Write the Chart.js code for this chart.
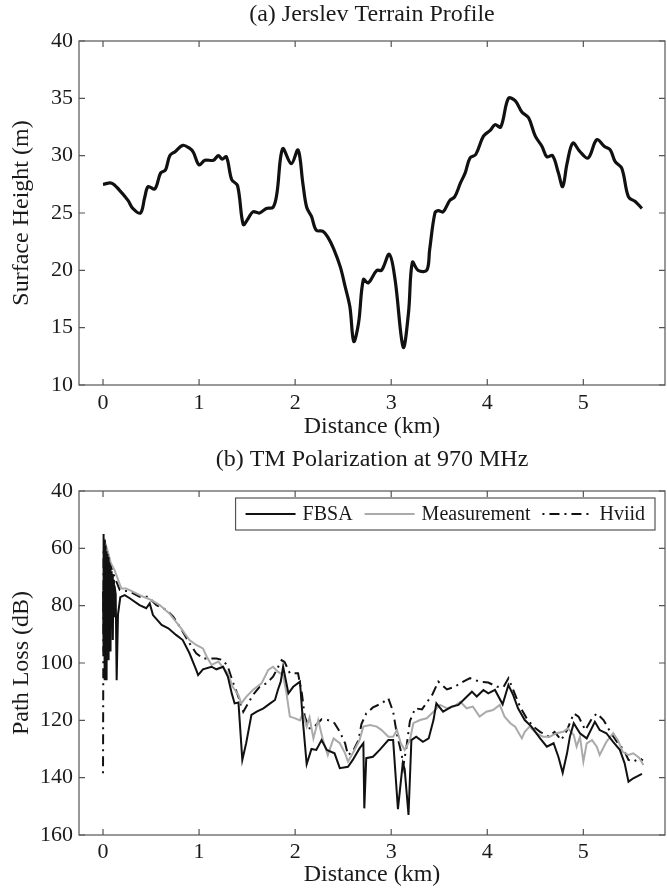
<!DOCTYPE html>
<html>
<head>
<meta charset="utf-8">
<script src="https://cdn.jsdelivr.net/npm/chart.js@4/dist/chart.umd.min.js"></script>
<style>
  body { margin: 0; background: #fff; }
  .panel { position: absolute; left: 0; width: 667px; height: 444px; }
</style>
</head>
<body>
<div class="panel" style="top:0"><canvas id="terrainChart" width="667" height="444"></canvas></div>
<div class="panel" style="top:444px"><canvas id="lossChart" width="667" height="444"></canvas></div>
<script>
// (a) terrain profile
var terrainKm = [0.00,0.09,0.17,0.26,0.31,0.39,0.435,0.47,0.54,0.60,0.65,0.695,0.75,0.83,0.90,0.94,1.00,1.06,1.15,1.20,1.24,1.285,1.34,1.40,1.46,1.51,1.56,1.63,1.70,1.77,1.81,1.87,1.96,2.03,2.08,2.12,2.17,2.22,2.29,2.34,2.40,2.47,2.52,2.57,2.61,2.66,2.71,2.76,2.85,2.90,2.98,3.04,3.125,3.18,3.22,3.28,3.37,3.40,3.455,3.49,3.54,3.61,3.66,3.72,3.77,3.82,3.88,3.96,4.03,4.08,4.14,4.22,4.29,4.36,4.43,4.50,4.57,4.62,4.68,4.74,4.785,4.83,4.89,4.965,5.05,5.14,5.22,5.28,5.33,5.40,5.47,5.54,5.61];
var terrainHeight = [27.5,27.6,27.0,26.1,25.4,25.0,26.4,27.3,27.1,28.5,28.75,30.0,30.35,30.9,30.65,30.3,29.2,29.6,29.6,30.0,29.7,29.9,27.9,27.4,24.0,24.5,25.1,25.0,25.4,25.5,26.7,30.6,29.3,30.5,27.6,25.5,24.7,23.5,23.4,22.9,21.9,20.3,18.6,16.8,13.8,15.4,19.2,18.9,20.0,20.0,21.4,19.2,13.3,16.3,20.7,20.0,20.0,21.8,25.0,25.2,25.1,26.1,26.4,27.6,28.5,29.8,30.1,31.7,32.2,32.7,32.5,35.0,34.8,33.8,33.3,31.7,30.8,29.9,30.0,28.5,27.3,29.3,31.1,30.35,29.8,31.4,30.8,30.5,29.5,28.9,26.4,26.0,25.4];

// (b) path loss at 970 MHz
var fbsaKm = [0.000,0.004,0.008,0.012,0.017,0.022,0.027,0.032,0.037,0.042,0.047,0.052,0.058,0.063,0.068,0.073,0.078,0.084,0.090,0.096,0.102,0.108,0.114,0.120,0.132,0.142,0.156,0.18,0.226,0.278,0.38,0.45,0.486,0.52,0.61,0.68,0.76,0.83,0.90,0.97,0.99,1.04,1.13,1.18,1.25,1.30,1.34,1.37,1.41,1.45,1.49,1.545,1.60,1.67,1.74,1.79,1.82,1.85,1.875,1.93,1.98,2.05,2.08,2.12,2.17,2.22,2.275,2.33,2.41,2.465,2.55,2.60,2.67,2.71,2.72,2.74,2.81,2.88,2.97,3.02,3.07,3.12,3.14,3.18,3.21,3.26,3.33,3.39,3.44,3.47,3.54,3.63,3.70,3.77,3.84,3.89,3.96,4.01,4.08,4.16,4.22,4.27,4.32,4.39,4.46,4.55,4.62,4.69,4.74,4.785,4.83,4.86,4.90,4.965,5.035,5.12,5.17,5.24,5.31,5.38,5.43,5.47,5.52,5.61];
var fbsaLoss = [75,55,96,57,106,59,100,61,106,62,93,63,99,65,88,66,96,68,86,69,92,71,84,73,76,106,83,77,76.3,77.4,79.8,80.9,79.2,83.3,86.7,87.9,90.2,92,96.6,102.4,104.2,102.2,101.3,102.2,101.3,104.8,110.6,114.1,113.8,133.8,128,118.1,117,115.8,114.1,112.9,109.4,106.5,101.3,110.6,108.3,106.5,120,135.3,130,130.3,126.9,130.3,131.5,136.7,136.2,133.8,129.8,128,150.7,133.2,132.7,130.3,126.9,126.9,151,135,137,153,126.9,125.7,127.5,126.3,119.9,114.1,117,115.2,114.6,112.3,110,111.7,109.4,110.6,109.4,114.4,107.7,111.2,115.8,119.9,122.2,126.3,129.2,128,132.7,138.3,131.5,125.7,121,124.5,126.3,120.5,123.4,124.5,127.5,130.3,135,141.4,140.2,138.7];

var measKm = [0.010,0.030,0.050,0.080,0.120,0.19,0.24,0.31,0.42,0.50,0.59,0.69,0.80,0.90,0.97,1.04,1.08,1.13,1.20,1.27,1.30,1.35,1.41,1.44,1.49,1.56,1.65,1.72,1.77,1.82,1.875,1.91,1.945,2.00,2.05,2.08,2.12,2.15,2.19,2.24,2.29,2.34,2.40,2.465,2.52,2.55,2.60,2.67,2.71,2.78,2.85,2.90,2.97,3.02,3.06,3.10,3.14,3.195,3.23,3.30,3.37,3.44,3.51,3.58,3.65,3.72,3.785,3.85,3.92,3.99,4.06,4.13,4.18,4.24,4.29,4.36,4.39,4.44,4.51,4.58,4.65,4.72,4.79,4.84,4.90,4.93,4.965,5.00,5.035,5.09,5.14,5.17,5.24,5.31,5.36,5.41,5.47,5.52,5.58,5.625];
var measLoss = [58,59,61,65,67.6,74,74,75.1,76.9,78,79.8,82.7,87.3,92,93.7,94.9,97.8,100.7,99.5,102.4,103.5,108.3,111.2,114.1,111.8,109.4,107.1,102.4,101.3,103,104.2,110.6,118.7,119.3,120,117.6,122.2,119,126.3,119.9,126.9,132.1,126.3,128,131.5,134.4,131.5,126.9,122.2,121.6,122.2,123.4,125.7,125.7,123.4,128,130.3,126.9,121,119.9,119.3,117,114.6,115.8,115.2,113.5,115.8,115.2,118.7,117,116.4,114.6,118.7,121,122.2,126.3,124,122.2,124.5,125.7,125.7,124.5,124,122.8,125.1,129.2,125.7,134.4,128,126.9,129.2,132.1,127.5,124.5,126.9,131,132.1,131.5,133,135.6];

var hviidKm = [0.000,0.003,0.006,0.02,0.06,0.12,0.174,0.28,0.38,0.47,0.556,0.66,0.73,0.82,0.90,0.97,1.04,1.11,1.18,1.25,1.30,1.35,1.41,1.46,1.51,1.56,1.63,1.70,1.77,1.86,1.89,1.945,2.03,2.07,2.10,2.15,2.20,2.275,2.34,2.41,2.465,2.52,2.55,2.60,2.66,2.69,2.74,2.81,2.90,2.97,3.02,3.06,3.11,3.125,3.16,3.195,3.25,3.32,3.43,3.49,3.58,3.66,3.75,3.82,3.92,4.01,4.10,4.17,4.22,4.27,4.34,4.41,4.48,4.55,4.64,4.70,4.77,4.83,4.90,4.95,5.02,5.09,5.14,5.21,5.28,5.35,5.42,5.47,5.52,5.59,5.62];
var hviidLoss = [138.5,100,60,58,64,70,74.5,75.1,76.9,76.9,79.8,81.5,83.8,88.5,93.1,96.6,98.4,98.4,98.4,99,101.3,106.5,111.8,117,114.1,111.2,108.3,107.1,104.8,99,99.6,103.6,103.6,110.6,118.7,122.8,122.2,119.6,119.9,121,124,128,132.1,130.9,126.9,121.3,117.6,115.5,114.1,112.3,117,125,132,136.2,129,120.2,115.8,116.2,110.9,106.5,109.2,108.3,106.5,105.3,106.5,106.8,108.3,108.3,105.3,109.4,115.2,119.3,122.2,124,125.7,124,126.9,123.4,117.6,118.7,123.4,119.3,117.6,119.9,124,127.5,130.3,133.8,134.4,133.2,134];

var kmTicks = [0, 1, 2, 3, 4, 5];
var heightTicks = [10, 15, 20, 25, 30, 35, 40];
var lossTicks = [40, 60, 80, 100, 120, 140, 160];

var serif = '"Liberation Serif", "Times New Roman", serif';
var axisColor = '#555';
var textColor = '#1a1a1a';

function pts(xs, ys) {
    var out = [];
    for (var i = 0; i < xs.length; i++) out.push({x: xs[i], y: ys[i]});
    return out;
}

// box round the plot with Matlab-like inward ticks on all four sides
var boxTicks = {
    id: 'boxTicks',
    afterDatasetsDraw: function(chart) {
        var ctx = chart.ctx, a = chart.chartArea, len = 6;
        var xs = chart.scales.x, ys = chart.scales.y;
        ctx.save();
        ctx.strokeStyle = axisColor;
        ctx.lineWidth = 1.2;
        ctx.setLineDash([]);
        ctx.strokeRect(a.left, a.top, a.right - a.left, a.bottom - a.top);
        ctx.beginPath();
        xs.ticks.forEach(function(t) {
            var px = xs.getPixelForValue(t.value);
            ctx.moveTo(px, a.bottom); ctx.lineTo(px, a.bottom - len);
            ctx.moveTo(px, a.top); ctx.lineTo(px, a.top + len);
        });
        ys.ticks.forEach(function(t) {
            var py = ys.getPixelForValue(t.value);
            ctx.moveTo(a.left, py); ctx.lineTo(a.left + len, py);
            ctx.moveTo(a.right, py); ctx.lineTo(a.right - len, py);
        });
        ctx.stroke();
        ctx.restore();
    }
};

// legend in a box, one row, top right inside the plot
var boxLegend = {
    id: 'boxLegend',
    afterDraw: function(chart) {
        if (!chart.options.plugins.boxLegend) return;
        var ctx = chart.ctx, a = chart.chartArea;
        var sets = chart.data.datasets;
        var lineLen = 50, gap = 7, itemGap = 12, pad = 10, h = 32;
        ctx.save();
        ctx.font = '20px ' + serif;
        var w = pad * 2 - itemGap;
        sets.forEach(function(ds) { w += lineLen + gap + ctx.measureText(ds.label).width + itemGap; });
        var right = a.right - 10, top = a.top + 7, left = right - w;
        ctx.fillStyle = '#fff';
        ctx.fillRect(left, top, w, h);
        ctx.strokeStyle = axisColor;
        ctx.lineWidth = 1.2;
        ctx.strokeRect(left, top, w, h);
        var x = left + pad, cy = top + h / 2;
        sets.forEach(function(ds) {
            ctx.beginPath();
            ctx.setLineDash(ds.borderDash || []);
            ctx.strokeStyle = ds.borderColor;
            ctx.lineWidth = ds.borderWidth;
            ctx.moveTo(x, cy); ctx.lineTo(x + lineLen, cy);
            ctx.stroke();
            ctx.setLineDash([]);
            ctx.fillStyle = textColor;
            ctx.textBaseline = 'middle';
            ctx.fillText(ds.label, x + lineLen + gap, cy + 1);
            x += lineLen + gap + ctx.measureText(ds.label).width + itemGap;
        });
        ctx.restore();
    }
};

function baseOptions(title, titlePad, yOpts, xTitlePad, tickPad) {
    return {
        responsive: false,
        animation: false,
        layout: {padding: {left: 0, right: 2, top: 0, bottom: 0}},
        elements: {point: {radius: 0}},
        plugins: {
            legend: {display: false},
            tooltip: {enabled: false},
            title: {
                display: true, text: title, color: textColor, fullSize: false,
                font: {family: serif, size: 24, weight: 'normal'},
                padding: titlePad
            }
        },
        scales: {
            x: {
                type: 'linear', min: -0.25, max: 5.85,
                afterBuildTicks: function(s) { s.ticks = kmTicks.map(function(v) { return {value: v}; }); },
                afterFit: function(s) { s.height = 444 - s.chart.options.plotBottom; },
                grid: {display: false, drawTicks: false},
                border: {display: false},
                ticks: {color: textColor, font: {family: serif, size: 22}, padding: tickPad, maxRotation: 0},
                title: {display: true, text: 'Distance (km)', color: textColor,
                        font: {family: serif, size: 24, lineHeight: 1.1}, padding: {top: 0, bottom: xTitlePad}}
            },
            y: yOpts
        }
    };
}

function yScale(min, max, ticks, label, reverse) {
    return {
        type: 'linear', min: min, max: max, reverse: reverse,
        afterBuildTicks: function(s) { s.ticks = ticks.map(function(v) { return {value: v}; }); },
        afterFit: function(s) { s.width = 79; },
        grid: {display: false, drawTicks: false},
        border: {display: false},
        ticks: {color: textColor, font: {family: serif, size: 22}, padding: 6},
        title: {display: true, text: label, color: textColor,
                font: {family: serif, size: 24, lineHeight: 1.1}, padding: {top: 9, bottom: 0}}
    };
}

var opts1 = baseOptions('(a) Jerslev Terrain Profile', {top: 0.6, bottom: 11.6},
    yScale(10, 40, heightTicks, 'Surface Height (m)', false), 3.8, 5);
opts1.plotBottom = 385;
new Chart(document.getElementById('terrainChart').getContext('2d'), {
    type: 'line',
    data: {
        datasets: [{
            label: 'Terrain',
            data: pts(terrainKm, terrainHeight),
            borderColor: '#111',
            borderWidth: 3.2,
            tension: 0.35,
            fill: false
        }]
    },
    options: opts1,
    plugins: [boxTicks]
});

var opts2 = baseOptions('(b) TM Polarization at 970 MHz', {top: 1.6, bottom: 16.6},
    yScale(40, 160, lossTicks, 'Path Loss (dB)', true), 0, 4);
opts2.plotBottom = 391;
opts2.plugins.boxLegend = true;
new Chart(document.getElementById('lossChart').getContext('2d'), {
    type: 'line',
    data: {
        datasets: [{
            label: 'FBSA',
            data: pts(fbsaKm, fbsaLoss),
            borderColor: '#111',
            borderWidth: 2,
            tension: 0,
            fill: false
        }, {
            label: 'Measurement',
            data: pts(measKm, measLoss),
            borderColor: '#aaaaaa',
            borderWidth: 2,
            tension: 0,
            fill: false
        }, {
            label: 'Hviid',
            data: pts(hviidKm, hviidLoss),
            borderColor: '#111',
            borderWidth: 2,
            borderDash: [2, 5, 10, 5],
            tension: 0,
            fill: false
        }]
    },
    options: opts2,
    plugins: [boxTicks, boxLegend]
});
</script>
</body>
</html>
